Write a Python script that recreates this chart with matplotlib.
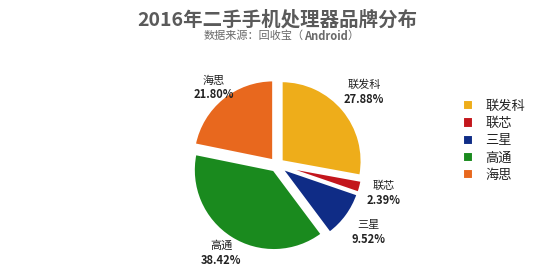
import numpy as np
import matplotlib
matplotlib.use("Agg")
import matplotlib.pyplot as plt

plt.rcParams['font.family'] = ['Noto Sans CJK SC', 'DejaVu Sans']

brands = ['联发科', '联芯', '三星', '高通', '海思']
shares = [27.88, 2.39, 9.52, 38.42, 21.80]
colors = ['#EEAD1A', '#C3161C', '#0F2C86', '#1A8A1E', '#E8681E']
title = '2016年二手手机处理器品牌分布'
subtitle_cn = '数据来源：回收宝（'
subtitle_en = 'Android'
subtitle_end = '）'

W, H = 558, 276
fig = plt.figure(figsize=(W / 100, H / 100), dpi=100)
fig.patch.set_facecolor('white')

scale = 80
cx, cy = 277, 165
half = 1.3
ax = fig.add_axes([(cx - half * scale) / W, (H - cy - half * scale) / H,
                   2 * half * scale / W, 2 * half * scale / H])

wedges, _ = ax.pie(shares, colors=colors, startangle=90, counterclock=False,
                   explode=[0.075] * len(shares),
                   wedgeprops=dict(edgecolor='white', linewidth=1.5))
ax.set_xlim(-half, half)
ax.set_ylim(-half, half)
ax.set_aspect('equal')
ax.axis('off')

dists = [1.42, 1.38, 1.42, 1.3, 1.25]
for w, name, val, d in zip(wedges, brands, shares, dists):
    ang = np.deg2rad((w.theta1 + w.theta2) / 2)
    x, y = d * np.cos(ang), d * np.sin(ang)
    ax.text(x, y + 0.09, name, ha='center', va='center', fontsize=8, color='#222222')
    ax.text(x, y - 0.09, f'{val:.2f}%', ha='center', va='center', fontsize=8,
            fontweight='bold', color='#222222')

fig.text(277 / W, 1 - 20 / H, title, ha='center', va='center', fontsize=14,
         fontweight='bold', color='#5a5a5a')

# subtitle: Chinese part regular, "Android" bold
renderer = fig.canvas.get_renderer()
parts = [(subtitle_cn, 'normal'), (subtitle_en, 'bold'), (subtitle_end, 'normal')]
texts = []
for s, wt in parts:
    t = fig.text(0, 1 - 36 / H, s, ha='left', va='center', fontsize=8,
                 fontweight=wt, color='#6a6a6a')
    texts.append(t)
widths = [t.get_window_extent(renderer).width for t in texts]
x0 = 281 - sum(widths) / 2
for t, wd in zip(texts, widths):
    t.set_x(x0 / W)
    x0 += wd

leg = fig.legend(wedges, brands, loc='upper left',
                 bbox_to_anchor=(451 / W, 1 - 88 / H), frameon=False,
                 fontsize=9.5, handlelength=0.8, handleheight=0.8,
                 labelspacing=0.32, handletextpad=0.9)
for t in leg.get_texts():
    t.set_color('#222222')

fig.savefig('out.png', dpi=100, facecolor='white')
